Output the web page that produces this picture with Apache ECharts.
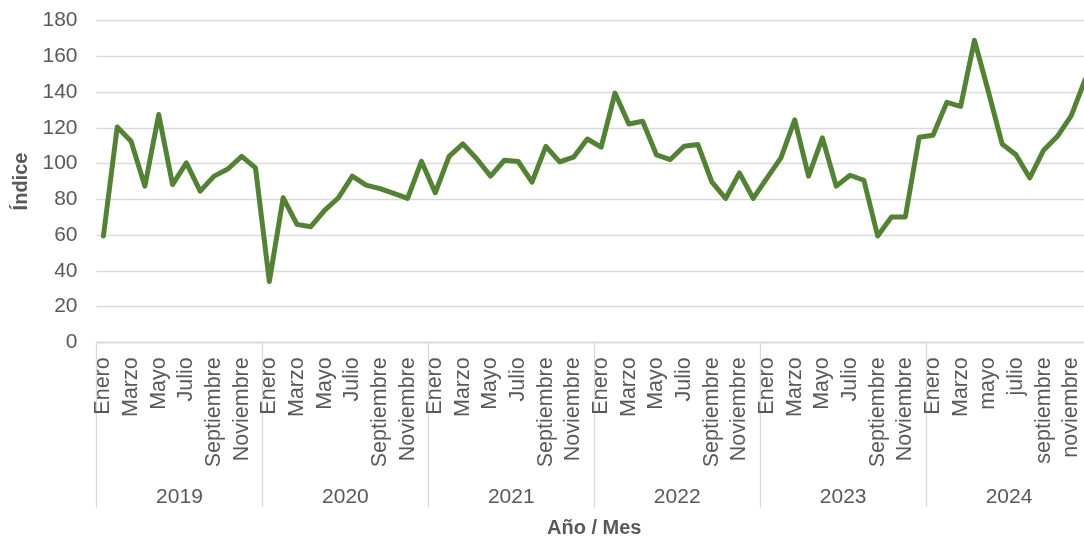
<!DOCTYPE html>
<html>
<head>
<meta charset="utf-8">
<script src="https://cdn.jsdelivr.net/npm/echarts@6/dist/echarts.min.js"></script>
<style>
html,body{margin:0;padding:0;background:#fff;overflow:hidden;}
#chart{width:1084px;height:536px;}
</style>
</head>
<body>
<div id="chart"></div>
<script>
const years = ['2019','2020','2021','2022','2023','2024'];
const monthsStd = ['Enero','Febrero','Marzo','Abril','Mayo','Junio','Julio','Agosto','Septiembre','Octubre','Noviembre','Diciembre'];
const months2024 = ['Enero','Febrero','Marzo','abril','mayo','junio','julio','agosto','septiembre','octubre','noviembre','diciembre'];
const yTicks = [0,20,40,60,80,100,120,140,160,180];

const v2019 = [59.5, 120.5, 112.5, 87.4, 127.5, 88.3, 100.4, 84.6, 93, 97, 104.1, 97.6];
const v2020 = [34, 80.9, 66, 64.7, 73.8, 80.9, 93, 88, 86, 83.3, 80.5, 101.3];
const v2021 = [83.7, 104.1, 111, 102.7, 93, 101.9, 101.2, 89.6, 109.7, 101, 103.6, 113.8];
const v2022 = [109.2, 139.5, 122.2, 123.7, 104.9, 102.3, 109.7, 110.7, 89.8, 80.5, 94.8, 80.5];
const v2023 = [92, 103.2, 124.5, 93, 114.4, 87.4, 93.5, 90.7, 59.5, 70.2, 70.2, 114.8];
const v2024 = [115.9, 134.3, 132.1, 169, 140.5, 111, 105, 92, 107.5, 115.3, 126.9, 147];

const categories = [];
years.forEach(y => {
  const m = (y === '2024') ? months2024 : monthsStd;
  m.forEach(name => categories.push(name));
});
const values = [].concat(v2019, v2020, v2021, v2022, v2023, v2024);

const textColor = '#595959';
const gridColor = '#d9d9d9';
const font = 'Liberation Sans, Arial, Helvetica, sans-serif';

const chart = echarts.init(document.getElementById('chart'));
chart.setOption({
  animation: false,
  backgroundColor: '#ffffff',
  grid: { left: 96.5, right: -8, top: 20.7, bottom: 193.7, containLabel: false, outerBoundsMode: 'none' },
  xAxis: [
    {
      type: 'category',
      data: categories,
      boundaryGap: true,
      position: 'bottom',
      axisLine: { show: true, lineStyle: { color: gridColor, width: 1.3 } },
      axisTick: { show: false },
      axisLabel: {
        interval: 1, rotate: 90, margin: 15,
        fontSize: 21.5, color: textColor, fontFamily: font
      },
      splitLine: { show: false }
    },
    {
      type: 'category',
      data: years,
      boundaryGap: true,
      position: 'bottom',
      axisLine: { show: false },
      axisTick: { show: true, interval: 0, alignWithLabel: false, length: 165, lineStyle: { color: gridColor, width: 1.3 } },
      axisLabel: { interval: 0, margin: 144, fontSize: 21, color: textColor, fontFamily: font },
      name: 'Año / Mes',
      nameLocation: 'middle',
      nameGap: 176,
      nameTextStyle: { fontSize: 20, fontWeight: 'bold', color: textColor, fontFamily: font },
      splitLine: { show: false }
    }
  ],
  yAxis: {
    type: 'value',
    min: yTicks[0],
    max: yTicks[yTicks.length - 1],
    interval: yTicks[1] - yTicks[0],
    axisLine: { show: false },
    axisTick: { show: false },
    axisLabel: { margin: 19, fontSize: 21, color: textColor, fontFamily: font },
    splitLine: { show: true, lineStyle: { color: gridColor, width: 1.3 } },
    name: 'Índice',
    nameLocation: 'middle',
    nameRotate: 90,
    nameGap: 60,
    nameTextStyle: { fontSize: 20, fontWeight: 'bold', color: textColor, fontFamily: font }
  },
  series: [{
    type: 'line',
    xAxisIndex: 0,
    data: values,
    symbol: 'none',
    smooth: false,
    clip: false,
    lineStyle: { color: '#548235', width: 5, cap: 'round', join: 'round' }
  }]
});
</script>
</body>
</html>
